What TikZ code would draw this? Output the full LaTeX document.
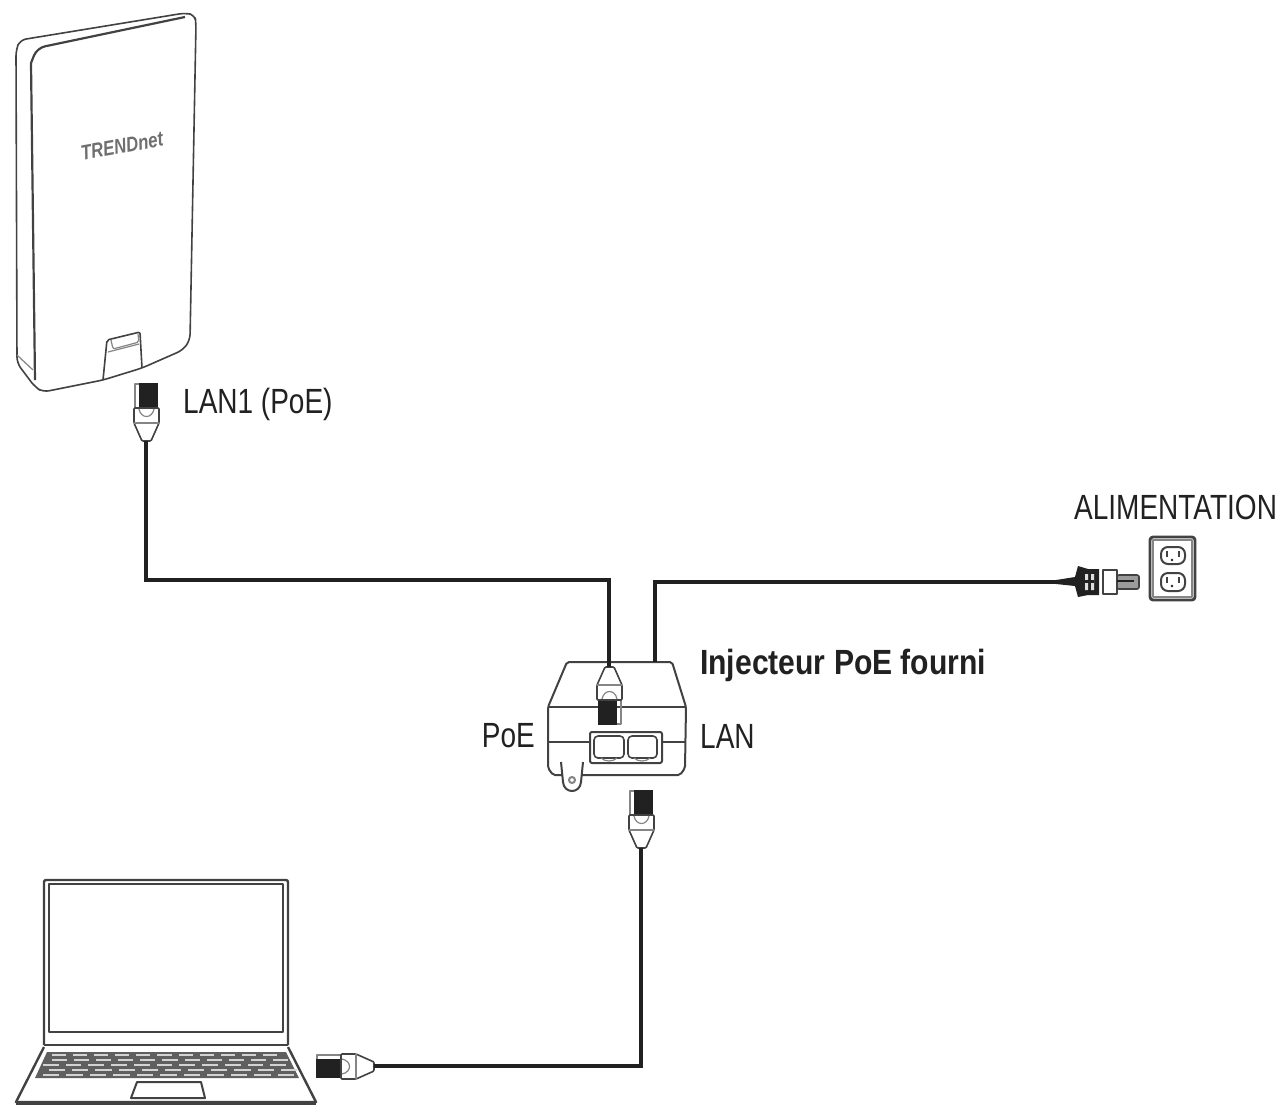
\documentclass[tikz,border=0pt]{standalone}
\usepackage{fontspec}
\setmainfont[FakeStretch=0.8,BoldFeatures={FakeStretch=0.86}]{Liberation Sans}
\usepackage{xcolor}
\usetikzlibrary{positioning}
\definecolor{ink}{gray}{0.13}

\begin{document}
\begin{tikzpicture}
[
x=1pt, y=-1pt,
text-a/.style={text=ink, inner sep=0pt, font=\fontsize{35}{35}\selectfont},
text-b/.style={text=ink, inner sep=0pt, font=\fontsize{35}{35}\selectfont\bfseries},
text-c/.style={text=ink!65, inner sep=0pt, font=\fontsize{21}{21}\selectfont\bfseries\itshape},
cable/.style={draw=ink, line width=3.2pt, line join=miter},
line-a/.style={draw=ink!85, line width=1.6pt, line join=round},
line-b/.style={draw=ink!85, line width=2.2pt, line join=round},
line-c/.style={draw=ink!55, line width=1.2pt, line join=round},
rj-plug/.pic={
  \fill [ink] (-7,-58) rectangle (12,-32);
  \draw [line-c] (-7,-57) -- (-11,-57) -- (-11,-32) -- (-7,-32);
  \filldraw [line-a, fill=white, rounded corners=1pt] (-12,-33) -- (13,-33) -- (13,-18) -- (5,0) -- (-4,0) -- (-12,-18) -- cycle;
  \draw [line-c] (-12,-18) -- (13,-18);
  \draw [line-c] (-7,-32) .. controls (-5,-22) and (6,-22) .. (8,-32);
}
]

\fill [white] (0,0) rectangle (1281,1112);
\useasboundingbox (0,0) rectangle (1281,1112);

% access point
\draw [line-a, rounded corners=6pt] (16,50) -- (20,40) -- (185,13) -- (195,15) -- (196,24) -- (190,340) -- (183,350) -- (142,368) -- (103,380) -- (43,392) -- (35,387) -- (17,363) -- cycle;
\draw [line-b, rounded corners=8pt] (31,63) -- (37,48) -- (185,17);
\draw [line-b] (31,63) -- (35,380);
\draw [line-c] (17,355) -- (33,370);
\draw [line-a, rounded corners=2pt] (103,380) -- (107,340) -- (140,332) -- (142,368);
\draw [line-c, rounded corners=2pt] (111,340) -- (113,349) -- (139,342) -- (138,334);
\draw [line-c] (108,352) -- (139,344);
\node (logo) [text-c, rotate=10] at (122,146) {TRENDnet};

% injector
\draw [line-a, line width=2pt, rounded corners=2pt] (567,662) -- (672,662) -- (686,707) -- (685,768) -- (680,775) -- (553,775) -- (548,768) -- (548,707) -- cycle;
\draw [line-a, line width=2pt] (548,707) -- (686,707);
\draw [line-a, line width=2pt] (548,742) -- (590,742);
\draw [line-a, line width=2pt] (662,742) -- (685,742);
\filldraw [line-a, line width=2pt, fill=white, rounded corners=2pt] (590,732) rectangle (662,763);
\filldraw [line-a, fill=white, rounded corners=4pt] (594,736) rectangle (624,758);
\filldraw [line-a, fill=white, rounded corners=4pt] (628,736) rectangle (657,758);
\draw [line-c] (601,758) .. controls (605,762) and (613,762) .. (617,758);
\draw [line-c] (634,758) .. controls (638,762) and (646,762) .. (650,758);
\filldraw [line-a, line width=2pt, fill=white] (561,762) -- (563,782) .. controls (564,794) and (580,794) .. (581,782) -- (583,762);
\draw [line-c, line width=2pt] (572,780) circle (3pt);

% outlet
\filldraw [line-a, line width=2.8pt, fill=white, rounded corners=3pt] (1150,537) rectangle (1195,600);
\draw [line-c] (1153,540) rectangle (1192,597);
\filldraw [line-a, line width=2pt, fill=white, rounded corners=7pt] (1161,547) rectangle (1185,564);
\filldraw [line-a, line width=2pt, fill=white, rounded corners=7pt] (1161,573) rectangle (1185,591);
\fill [ink] (1172,560) circle (1.3pt) (1172,586) circle (1.3pt);
\draw [line-b, line width=2pt] (1167,551) -- (1167,557) (1179,551) -- (1179,557) (1167,577) -- (1167,583) (1179,577) -- (1179,583);

% power plug
\fill [ink] (1056,580) -- (1075,577) -- (1078,566) -- (1088,569) -- (1099,569) -- (1099,595) -- (1088,595) -- (1078,597) -- (1075,586) -- (1056,584) -- cycle;
\fill [white!85!ink] (1085,574) rectangle (1088,590) (1091,574) rectangle (1094,590);
\fill [ink] (1085,580) rectangle (1094,583);
\filldraw [line-a, line width=2pt, fill=white] (1103,570) rectangle (1117,594);
\filldraw [line-a, fill=ink!45, rounded corners=2pt] (1117,575) rectangle (1139,589);
\draw [ink, line width=2pt] (1117,581) -- (1134,581);

% laptop
\draw [line-a, line width=2.4pt, rounded corners=2pt] (44,1045) -- (44,880) -- (288,880) -- (288,1045);
\draw [line-b, line width=2pt] (49,884) rectangle (283,1032);
\draw [line-a, line width=2.2pt] (44,1045) -- (288,1045);
\draw [line-a, line width=2.4pt] (44,1047) -- (16,1102) -- (316,1102) -- (288,1047);
\draw [line-b, line width=3.4pt] (16,1103) -- (316,1103);
\fill [ink!72] (47,1052) -- (286,1052) -- (299,1078) -- (35,1078) -- cycle;
\foreach \ky/\kl/\kr/\ks in {1055/52/284/0, 1060/44/287/8, 1065/40/290/3, 1070/38/293/11, 1075/38/296/5}
  \foreach \kx in {0,...,10}
    \fill [white!80!ink] ({\kl+\ks+\kx*(\kr-\kl)/11},\ky-0.8) rectangle ({\kl+\ks+(\kx+1)*(\kr-\kl)/11-7},\ky+0.8);
\draw [line-a, line width=2pt] (131,1098) -- (137,1082) -- (201,1082) -- (205,1098) -- cycle;

% plugs
\coordinate (plug-ap)  at (146,441);
\coordinate (plug-inj) at (609,667);
\coordinate (plug-lan) at (641,848);
\coordinate (plug-pc)  at (374,1066);
\coordinate (plug-ac)  at (1058,582);
\coordinate (inj-ac)   at (655,662);
\coordinate (bend-1)   at (146,580);
\coordinate (bend-2)   at (609,580);
\coordinate (bend-3)   at (655,582);
\coordinate (bend-4)   at (641,1066);

\pic (rj-ap)  at (plug-ap)  {rj-plug};
\pic (rj-lan) at (plug-lan) {rj-plug};
\pic (rj-inj) [rotate=180, xshift=-1pt] at (plug-inj) {rj-plug};
\pic (rj-pc)  [rotate=90, xscale=-1]  at (plug-pc)  {rj-plug};

\draw [cable] (plug-ap) -- (bend-1) -- (bend-2) -- (plug-inj);
\draw [cable] (inj-ac) -- (bend-3) -- (plug-ac);
\draw [cable] (plug-lan) -- (bend-4) -- (plug-pc);

% labels
\node (lab-lan1) [text-a, anchor=west] at (183,404) {LAN1 (PoE)};
\node (lab-ac)   [text-a, anchor=west] at (1074,507) {ALIMENTATION};
\node (lab-inj)  [text-b, anchor=west] at (700,665) {Injecteur PoE fourni};
\node (lab-lan)  [text-a, anchor=west] at (700,736) {LAN};
\node (lab-poe)  [text-a, left = 165pt of lab-lan] {PoE};

\end{tikzpicture}
\end{document}
